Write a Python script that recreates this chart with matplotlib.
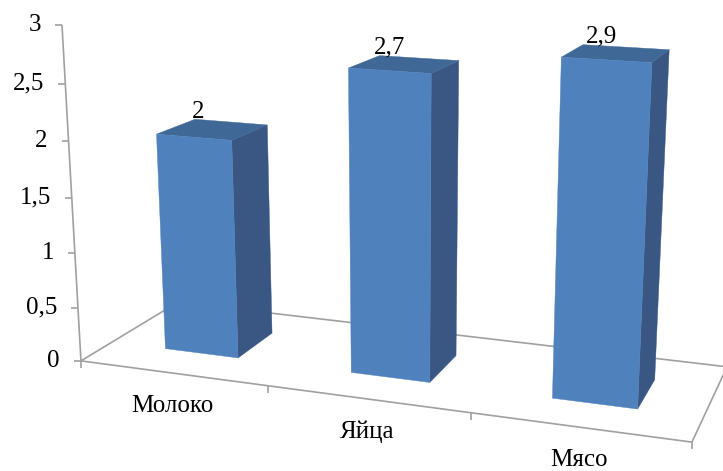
import numpy as np
import matplotlib
matplotlib.use('Agg')
import matplotlib.pyplot as plt
from matplotlib.patches import Polygon

# ---------------- data ----------------
categories = ['Молоко', 'Яйца', 'Мясо']
values = [2, 2.7, 2.9]
value_labels = ['2', '2,7', '2,9']
y_ticks = [0, 0.5, 1, 1.5, 2, 2.5, 3]
y_tick_labels = ['0', '0,5', '1', '1,5', '2', '2,5', '3']

# ---------------- layout: perspective frame calibration ----------------
W, H = 723, 471
floor_world = [(0, 0), (1, 0), (2, 0), (3, 0), (0, 1), (3, 1)]  # (category units, depth)
floor_px = [(81, 361), (268, 386), (471, 412.5), (692, 442), (178, 302), (727, 367)]
vertical_vp = (404, 6080)           # vanishing point of vertical lines
axis_world = [1, 2, 3]
axis_px = [(75, 253), (68.5, 142), (62, 25)]

bar_x0, bar_x1 = 0.3, 0.7           # bar extent inside its category slot
bar_z0, bar_z1 = 0.3, 0.7           # bar extent in depth

FRONT = '#4F81BD'
SIDE = '#3A5784'
TOP = '#3F6897'
LINE = '#A0A0A0'
FONT = 'Liberation Serif'
FS = 18


def fit_homography(src, dst):
    dst = np.asarray(dst, float)
    m = dst.mean(0)
    s = np.sqrt(2) / np.mean(np.linalg.norm(dst - m, axis=1))
    T = np.array([[s, 0, -s * m[0]], [0, s, -s * m[1]], [0, 0, 1]])
    A = []
    for (X, Z), (u, v) in zip(src, dst):
        u, v, _ = T @ np.array([u, v, 1.0])
        A.append([X, Z, 1, 0, 0, 0, -u * X, -u * Z, -u])
        A.append([0, 0, 0, X, Z, 1, -v * X, -v * Z, -v])
    _, _, Vt = np.linalg.svd(np.array(A, float))
    Hm = np.linalg.inv(T) @ Vt[-1].reshape(3, 3)
    return Hm / Hm[2, 2]


Hm = fit_homography(floor_world, floor_px)
h0 = Hm[:, 2]
vx, vy = vertical_vp
a_list, b_list = [], []
for Y, (u, v) in zip(axis_world, axis_px):
    a_list += [Y * (vx - u), Y * (vy - v)]
    b_list += [u * h0[2] - h0[0], v * h0[2] - h0[1]]
a_arr, b_arr = np.array(a_list), np.array(b_list)
lam = (a_arr @ b_arr) / (a_arr @ a_arr)
cvec = lam * np.array([vx, vy, 1.0])


def proj(X, Z, Y):
    p = Hm @ np.array([X, Z, 1.0]) + Y * cvec
    return p[0] / p[2], p[1] / p[2]


fig = plt.figure(figsize=(W / 100, H / 100), dpi=100)
ax = fig.add_axes([0, 0, 1, 1])
ax.set_xlim(0, W)
ax.set_ylim(H, 0)
ax.axis('off')

n = len(categories)


def seg(p, q, **kw):
    ax.plot([p[0], q[0]], [p[1], q[1]], color=LINE, lw=1.2, solid_capstyle='butt', **kw)


# floor outline
seg(proj(0, 0, 0), proj(n, 0, 0), zorder=1)
seg(proj(0, 0, 0), proj(0, 1, 0), zorder=1)
seg(proj(0, 1, 0), proj(n, 1, 0), zorder=1)
seg(proj(n, 0, 0), proj(n, 1, 0), zorder=1)

# category ticks
for i in range(n + 1):
    px, py = proj(i, 0, 0)
    seg((px, py), (px, py + 7), zorder=1)

# value axis
seg(proj(0, 0, 0), proj(0, 0, y_ticks[-1]), zorder=1)
for t, lab in zip(y_ticks, y_tick_labels):
    px, py = proj(0, 0, t)
    seg((px - 7, py), (px, py), zorder=1)
    ax.annotate(lab, xy=(px, py), xytext=(-21, 0), textcoords='offset pixels',
                ha='right', va='center', fontsize=FS, family=FONT, color='black')

# bars
for i, val in enumerate(values):
    x0, x1 = i + bar_x0, i + bar_x1
    front = [proj(x0, bar_z0, 0), proj(x1, bar_z0, 0), proj(x1, bar_z0, val), proj(x0, bar_z0, val)]
    side = [proj(x1, bar_z0, 0), proj(x1, bar_z1, 0), proj(x1, bar_z1, val), proj(x1, bar_z0, val)]
    top = [proj(x0, bar_z0, val), proj(x1, bar_z0, val), proj(x1, bar_z1, val), proj(x0, bar_z1, val)]
    for poly, col in ((side, SIDE), (top, TOP), (front, FRONT)):
        ax.add_patch(Polygon(poly, closed=True, facecolor=col, edgecolor=col, lw=0.3, zorder=2))
    cx, cy = proj(i + 0.5, (bar_z0 + bar_z1) / 2, val)
    ax.annotate(value_labels[i], xy=(cx, cy), xytext=(-15, 17), textcoords='offset pixels',
                ha='center', va='center', fontsize=FS, family=FONT, color='black', zorder=3)

# category labels
for i, cat in enumerate(categories):
    px, py = proj(i + 0.5, 0, 0)
    ax.annotate(cat, xy=(px, py), xytext=(0, -33), textcoords='offset pixels',
                ha='center', va='center', fontsize=FS, family=FONT, color='black')

fig.savefig('out.png', dpi=100)
